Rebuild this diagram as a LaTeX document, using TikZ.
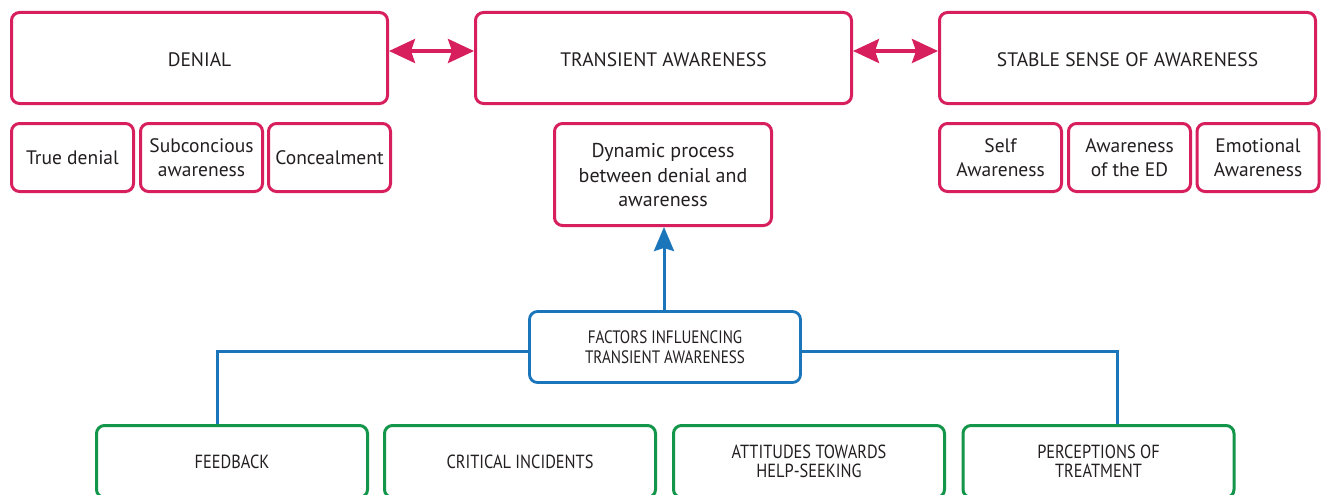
\documentclass[tikz,border=0pt]{standalone}
\usepackage{fontspec}
\setmainfont{PT Sans}
\newfontfamily\cond[FakeStretch=0.86]{PT Sans}
\newfontfamily\condb[FakeStretch=0.84]{PT Sans}
\usetikzlibrary{arrows.meta}
\definecolor{pk}{HTML}{D81F5E}
\definecolor{bl}{HTML}{1B75BB}
\definecolor{gn}{HTML}{13954A}
\definecolor{tx}{HTML}{231F20}
\newcommand{\lowerby}[2]{\raisebox{-#1}[\height][\depth]{#2}}
\tikzset{
  pbox/.style={draw=pk, line width=3pt, rounded corners=8pt, text=tx, align=center, inner sep=2pt},
  hdr/.style={pbox, minimum width=376pt, minimum height=91pt, font=\fontsize{19.5}{22}\selectfont},
  sub/.style={pbox, minimum width=122pt, minimum height=68pt, font=\fontsize{19.5}{24}\selectfont},
  fbox/.style={draw=bl, line width=2.8pt, rounded corners=8pt, text=tx, align=center, minimum width=271pt, minimum height=71pt, font=\condb\fontsize{18}{20.5}\selectfont},
  gbox/.style={draw=gn, line width=3pt, rounded corners=8pt, text=tx, align=center, minimum width=271pt, minimum height=72pt, font=\cond\fontsize{19}{19.5}\selectfont},
  parrow/.style={draw=pk, line width=3.5pt, {Stealth[length=26pt,width=24pt,inset=4pt]}-{Stealth[length=26pt,width=24pt,inset=4pt]}},
  bline/.style={draw=bl, line width=3pt},
}
\begin{document}
\begin{tikzpicture}[x=1pt,y=-1pt]
\useasboundingbox (0,0) rectangle (1325,495);
\clip (0,0) rectangle (1325,495);
\fill[white] (0,0) rectangle (1325,495);
% header boxes
\node[hdr] (denial) at (199.5,58) {\lowerby{2pt}{DENIAL}};
\node[hdr] (trans) at (663.5,58) {\lowerby{2pt}{TRANSIENT AWARENESS}};
\node[hdr] (stable) at (1127.5,58) {\lowerby{2pt}{STABLE SENSE OF AWARENESS}};
% sub boxes
\node[sub] (true) at (72.5,157.5) {True denial};
\node[sub] (subc) at (201.5,157.5) {Subconcious\\awareness};
\node[sub] (conc) at (329.5,157.5) {Concealment};
\node[sub] (self) at (1000.5,157.5) {Self\\Awareness};
\node[sub] (awed) at (1129.5,157.5) {Awareness\\of the ED};
\node[sub] (emo) at (1258,157.5) {Emotional\\Awareness};
\node[pbox, minimum width=217pt, minimum height=102pt, font=\fontsize{20}{24.5}\selectfont] (dyn) at (663,174.5) {\lowerby{3pt}{\begin{tabular}{@{}c@{}}Dynamic process\\between denial and\\awareness\end{tabular}}};
% factors
\node[fbox] (fact) at (665,347) {FACTORS INFLUENCING\\TRANSIENT AWARENESS};
% green boxes
\node[gbox] (feed) at (232,461.5) {FEEDBACK};
\node[gbox] (crit) at (520,461.5) {CRITICAL INCIDENTS};
\node[gbox] (att) at (809,461.5) {ATTITUDES TOWARDS\\HELP-SEEKING};
\node[gbox] (perc) at (1098.5,461.5) {PERCEPTIONS OF\\TREATMENT};
% pink arrows
\draw[parrow] ([yshift=7pt]denial.east) -- ([yshift=7pt]trans.west);
\draw[parrow] ([yshift=7pt]trans.east) -- ([yshift=7pt]stable.west);
% blue connectors
\draw[bline, -{Stealth[length=24pt,width=20pt,inset=3pt]}] ([xshift=-1pt]fact.north) -- ([xshift=-1pt]fact.north |- dyn.south);
\draw[bline] ([yshift=-4pt]fact.west) -| ([xshift=-15pt]feed.north);
\draw[bline] ([yshift=-4pt]fact.east) -| ([xshift=18.5pt]perc.north);
\end{tikzpicture}
\end{document}
